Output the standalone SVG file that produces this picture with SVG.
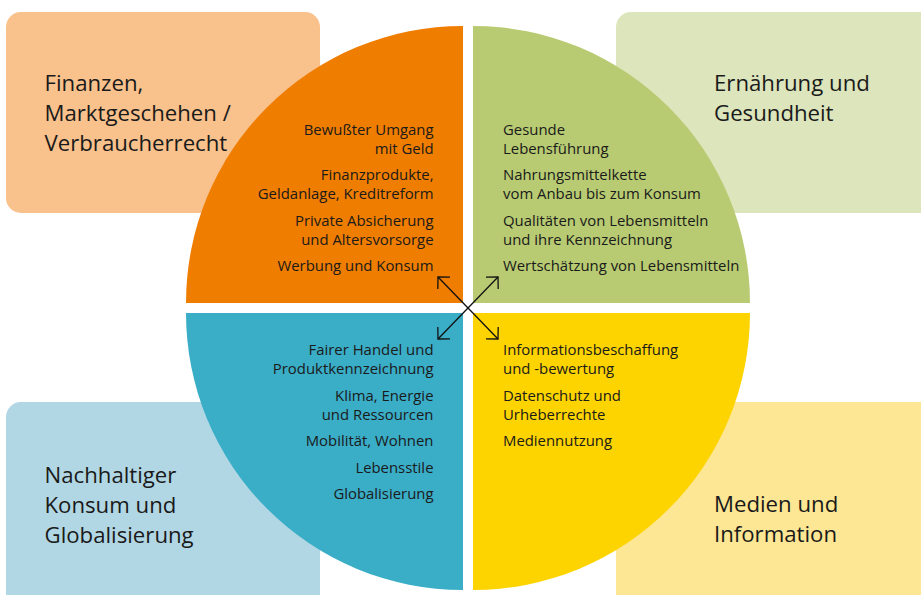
<svg xmlns="http://www.w3.org/2000/svg" width="921" height="595" viewBox="0 0 921 595">
<style>
.title{font-family:"Open Sans","Liberation Sans",sans-serif;font-size:22.2px;fill:#1a1a1a}
.item{font-family:"Open Sans","Liberation Sans",sans-serif;font-size:14.9px;fill:#1a1a1a}
.r{text-anchor:end}
.conn{stroke:#111;stroke-width:1.3;fill:none}
</style>
<defs>
<marker id="ah" markerUnits="userSpaceOnUse" markerWidth="24" markerHeight="24" viewBox="-12 -12 24 24" refX="0" refY="0" orient="auto-start-reverse" overflow="visible">
<path d="M-8.5,-8.5 L0,0 L-8.5,8.5" fill="none" stroke="#111" stroke-width="1.3"/>
</marker>
</defs>
<rect width="921" height="595" fill="#fff"/>
<g id="box-finanzen">
<rect x="6" y="12" width="314" height="201" rx="15" fill="#F9C18C"/>
<text class="title"><tspan x="44.5" y="91">Finanzen,</tspan><tspan x="44.5" y="121">Marktgeschehen /</tspan><tspan x="44.5" y="151">Verbraucherrecht</tspan></text>
</g>
<g id="box-ernaehrung">
<rect x="616" y="12" width="330" height="201" rx="15" fill="#DDE5BC"/>
<text class="title"><tspan x="714" y="91">Ernährung und</tspan><tspan x="714" y="121">Gesundheit</tspan></text>
</g>
<g id="box-nachhaltig">
<rect x="6" y="402" width="314" height="220" rx="15" fill="#B1D7E4"/>
<text class="title"><tspan x="44.5" y="483">Nachhaltiger</tspan><tspan x="44.5" y="513">Konsum und</tspan><tspan x="44.5" y="543">Globalisierung</tspan></text>
</g>
<g id="box-medien">
<rect x="616" y="402" width="330" height="220" rx="15" fill="#FDE694"/>
<text class="title"><tspan x="714" y="512">Medien und</tspan><tspan x="714" y="542">Information</tspan></text>
</g>
<g id="q-finanzen">
<path d="M463,303 L186,303 A277,277 0 0 1 463,26 Z" fill="#EF7D00"/>
<text class="item r"><tspan x="433.5" y="135">Bewußter Umgang</tspan><tspan x="433.5" y="154">mit Geld</tspan><tspan x="433.5" y="180">Finanzprodukte,</tspan><tspan x="433.5" y="199">Geldanlage, Kreditreform</tspan><tspan x="433.5" y="226">Private Absicherung</tspan><tspan x="433.5" y="245">und Altersvorsorge</tspan><tspan x="433.5" y="271">Werbung und Konsum</tspan></text>
</g>
<g id="q-ernaehrung">
<path d="M473,303 L473,26 A277,277 0 0 1 750,303 Z" fill="#B8CB72"/>
<text class="item"><tspan x="503" y="135">Gesunde</tspan><tspan x="503" y="154">Lebensführung</tspan><tspan x="503" y="180">Nahrungsmittelkette</tspan><tspan x="503" y="199">vom Anbau bis zum Konsum</tspan><tspan x="503" y="226">Qualitäten von Lebensmitteln</tspan><tspan x="503" y="245">und ihre Kennzeichnung</tspan><tspan x="503" y="271">Wertschätzung von Lebensmitteln</tspan></text>
</g>
<g id="q-nachhaltig">
<path d="M463,313 L463,590 A277,277 0 0 1 186,313 Z" fill="#3AADC7"/>
<text class="item r"><tspan x="433.5" y="355">Fairer Handel und</tspan><tspan x="433.5" y="374">Produktkennzeichnung</tspan><tspan x="433.5" y="401">Klima, Energie</tspan><tspan x="433.5" y="420">und Ressourcen</tspan><tspan x="433.5" y="446">Mobilität, Wohnen</tspan><tspan x="433.5" y="473">Lebensstile</tspan><tspan x="433.5" y="499">Globalisierung</tspan></text>
</g>
<g id="q-medien">
<path d="M473,313 L750,313 A277,277 0 0 1 473,590 Z" fill="#FDD400"/>
<text class="item"><tspan x="503" y="355">Informationsbeschaffung</tspan><tspan x="503" y="374">und -bewertung</tspan><tspan x="503" y="401">Datenschutz und</tspan><tspan x="503" y="420">Urheberrechte</tspan><tspan x="503" y="446">Mediennutzung</tspan></text>
</g>
<g id="connectors">
<line class="conn" x1="438" y1="277" x2="498" y2="339" marker-start="url(#ah)" marker-end="url(#ah)"/>
<line class="conn" x1="498" y1="277" x2="438" y2="339" marker-start="url(#ah)" marker-end="url(#ah)"/>
</g>
</svg>
